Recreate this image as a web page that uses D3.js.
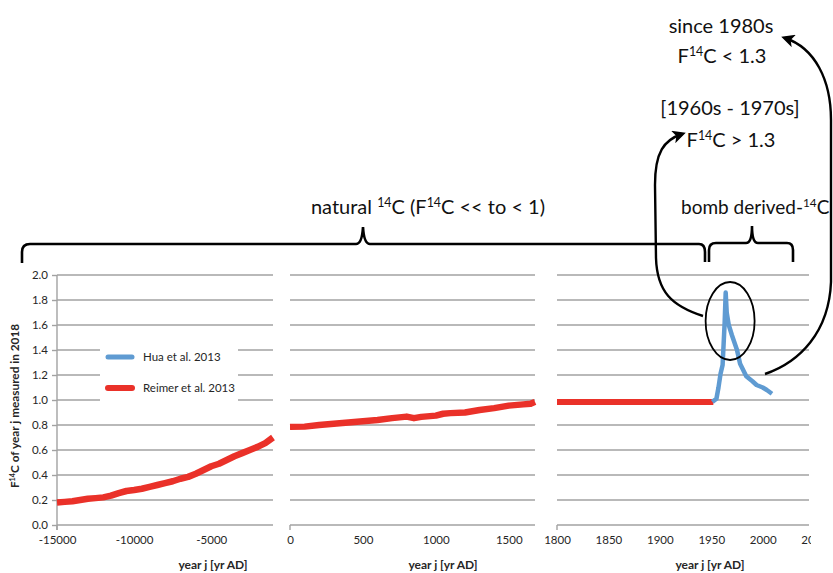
<!DOCTYPE html>
<html>
<head>
<meta charset="utf-8">
<script src="https://cdn.jsdelivr.net/npm/d3@7"></script>
<style>
  html, body { margin: 0; padding: 0; background: #fff; }
  svg { display: block; }
  text { font-family: Lato, "Open Sans", "DejaVu Sans", sans-serif; }
</style>
</head>
<body>
<svg id="chart" width="833" height="573"></svg>
<script>
// ---- data ----------------------------------------------------------
// Reimer et al. 2013 (IntCal13), prehistoric part
const reimerEarlyYears = [-15000,-14500,-14000,-13500,-13000,-12500,-12000,-11500,-11000,-10500,-10000,-9500,-9000,-8500,-8000,-7500,-7000,-6500,-6000,-5500,-5000,-4500,-4000,-3500,-3000,-2500,-2000,-1500,-1000];
const reimerEarlyF14C  = [0.18,0.185,0.19,0.20,0.21,0.215,0.221,0.235,0.255,0.272,0.28,0.29,0.305,0.32,0.335,0.35,0.37,0.385,0.41,0.44,0.47,0.49,0.52,0.55,0.575,0.60,0.625,0.655,0.70];
// Reimer et al. 2013, common era
const reimerCEYears = [0,100,200,300,400,500,600,700,800,850,900,1000,1050,1100,1200,1300,1400,1500,1600,1650,1680];
const reimerCEF14C  = [0.785,0.787,0.80,0.81,0.82,0.83,0.84,0.855,0.867,0.855,0.865,0.875,0.89,0.895,0.90,0.92,0.935,0.955,0.965,0.97,0.985];
// Reimer et al. 2013, industrial period
const reimerModernYears = [1800,1850,1900,1952];
const reimerModernF14C  = [0.985,0.985,0.985,0.985];
// Hua et al. 2013, bomb pulse
const huaYears = [1951,1955,1957,1959,1961,1962,1963,1964,1965,1967,1970,1975,1978,1984,1990,1994,2000,2004,2009];
const huaF14C  = [0.985,1.01,1.10,1.21,1.28,1.45,1.62,1.86,1.70,1.60,1.52,1.40,1.29,1.19,1.15,1.12,1.10,1.08,1.05];

// axis ticks
const yTicks = [0,0.2,0.4,0.6,0.8,1.0,1.2,1.4,1.6,1.8,2.0];
const ticksEarly = [-15000,-10000,-5000];
const ticksCE = [0,500,1000,1500];
const ticksModern = [1800,1850,1900,1950,2000,2050];

const seriesNames = ["Hua et al. 2013", "Reimer et al. 2013"];
const seriesColors = ["#5f9bd2", "#ea3129"];

// ---- layout --------------------------------------------------------
const svg = d3.select("#chart");
const plotTop = 275, plotBottom = 525;
const y = d3.scaleLinear().domain([0, 2]).range([plotBottom, plotTop]);

const panels = [
  { x: d3.scaleLinear().domain([-15000, -1000]).range([57, 273]), ticks: ticksEarly, clipRight: 285 },
  { x: d3.scaleLinear().domain([0, 1680]).range([290, 535]), ticks: ticksCE, clipRight: 545 },
  { x: d3.scaleLinear().domain([1800, 2045]).range([557, 809]), ticks: ticksModern, clipRight: 811 }
];

const gridColor = "#a2a2a2";
const textColor = "#262626";

// clip for tick labels of each panel (in unshifted user space)
const defs = svg.append("defs");
panels.forEach((p, i) => {
  defs.append("clipPath").attr("id", "lab" + i)
    .append("rect").attr("x", p.x.range()[0] - 40).attr("y", plotBottom)
    .attr("width", p.clipRight - p.x.range()[0] + 40).attr("height", 48);
});

// arrowhead marker
defs.append("marker").attr("id", "arrow")
  .attr("viewBox", "0 0 10 10").attr("refX", 7).attr("refY", 5)
  .attr("markerWidth", 5.5).attr("markerHeight", 5.5).attr("markerUnits", "strokeWidth")
  .attr("orient", "auto")
  .append("path").attr("d", "M0,0 L10,5 L0,10 L2.5,5 Z").attr("fill", "#000");

panels.forEach((p, i) => {
  const g = svg.append("g");
  const [x0, x1] = p.x.range();
  // horizontal gridlines (incl. baseline)
  g.selectAll("line.grid").data(yTicks).join("line")
    .attr("x1", x0).attr("x2", x1)
    .attr("y1", d => y(d)).attr("y2", d => y(d))
    .attr("stroke", gridColor).attr("stroke-width", 1.6);
  // start tick under baseline
  g.append("line").attr("x1", x0).attr("x2", x0).attr("y1", plotBottom).attr("y2", plotBottom + 5)
    .attr("stroke", gridColor).attr("stroke-width", 1.4);
  // x tick labels
  const xa = d3.axisBottom(p.x).tickValues(p.ticks).tickSize(0).tickPadding(11)
    .tickFormat(d => d3.format("d")(d).replace("\u2212", "-"));
  const ax = g.append("g").attr("clip-path", `url(#lab${i})`)
    .append("g").attr("transform", `translate(0,${plotBottom})`).call(xa);
  ax.select(".domain").remove();
  ax.selectAll("text").attr("font-size", 11.5).attr("fill", textColor)
    .style("font-family", "Lato, sans-serif");
  // x axis title
  g.append("text").attr("x", i === 0 ? 213 : (i === 1 ? 443 : 710)).attr("y", 569)
    .attr("text-anchor", "middle").attr("font-size", 12).attr("font-weight", "bold")
    .attr("fill", textColor).text("year j [yr AD]");
});

// y axis on first panel
const ya = d3.axisLeft(y).tickValues(yTicks).tickSize(5).tickPadding(4).tickFormat(d3.format(".1f"));
const yg = svg.append("g").attr("transform", `translate(57,0)`).call(ya);
yg.select(".domain").attr("stroke", gridColor).attr("stroke-width", 1.4).attr("d", `M0,${plotTop}V${plotBottom + 5}`);
yg.selectAll(".tick line").attr("stroke", gridColor).attr("stroke-width", 1.4);
yg.selectAll("text").attr("font-size", 11.5).attr("fill", textColor).style("font-family", "Lato, sans-serif");

// rich text helper: parts as [text, isSuperscript]
function rich(sel, parts, size) {
  let prevSup = false;
  parts.forEach(([t, sup]) => {
    const ts = sel.append("tspan").text(t);
    if (sup) { ts.attr("font-size", size * 0.62).attr("dy", -size * 0.36); }
    else if (prevSup) { ts.attr("dy", size * 0.36); }
    prevSup = sup;
  });
  return sel;
}

// y axis title
const yt = svg.append("text").attr("transform", "translate(19,406) rotate(-90)")
  .attr("text-anchor", "middle").attr("font-size", 11.8).attr("font-weight", "bold").attr("fill", textColor);
rich(yt, [["F", false], ["14", true], ["C of year j measured in 2018", false]], 11.8);

// legend (white box over gridlines)
svg.append("rect").attr("x", 100).attr("y", 340).attr("width", 138).attr("height", 64).attr("fill", "#fff");
const legend = svg.append("g");
seriesNames.forEach((n, i) => {
  const ly = 357 + i * 31;
  legend.append("line").attr("x1", 108).attr("x2", 132).attr("y1", ly).attr("y2", ly)
    .attr("stroke", seriesColors[i]).attr("stroke-width", i === 0 ? 5 : 6).attr("stroke-linecap", "round");
  legend.append("text").attr("x", 143).attr("y", ly + 4).attr("font-size", 11.5)
    .attr("fill", textColor).text(n);
});

// series lines
function drawSeries(p, years, vals, color, width) {
  const line = d3.line().x(d => p.x(d[0])).y(d => y(d[1]));
  svg.append("path").datum(d3.zip(years, vals)).attr("d", line)
    .attr("fill", "none").attr("stroke", color).attr("stroke-width", width)
    .attr("stroke-linejoin", "round");
}
drawSeries(panels[0], reimerEarlyYears, reimerEarlyF14C, seriesColors[1], 6.5);
drawSeries(panels[1], reimerCEYears, reimerCEF14C, seriesColors[1], 6.5);
drawSeries(panels[2], reimerModernYears, reimerModernF14C, seriesColors[1], 6);
drawSeries(panels[2], huaYears, huaF14C, seriesColors[0], 4.5);

// ---- annotations -----------------------------------------------------
const ann = svg.append("g").attr("fill", "none").attr("stroke", "#000");

// braces
ann.append("path").attr("stroke-width", 2.6)
  .attr("d", "M22,263 L22,252 Q22,244 30,244 L356,244 Q362,244 363,227 Q364,244 370,244 L699,244 Q705,244 705,252 L705,262");
ann.append("path").attr("stroke-width", 2.6)
  .attr("d", "M709,262 L709,250 Q709,243 716,243 L746,243 Q752,243 752,226 Q752,243 758,243 L787,243 Q793,243 793,250 L793,262");

// ellipse around the bomb peak
ann.append("ellipse").attr("cx", panels[2].x(1968.3)).attr("cy", y(1.632))
  .attr("rx", 24.5).attr("ry", 39).attr("stroke-width", 1.8);

// curved arrows
ann.append("path").attr("stroke-width", 2.4).attr("marker-end", "url(#arrow)")
  .attr("d", "M703,316 C672,306 657,292 656,258 L655,185 C655,152 664,140 682,134");
ann.append("path").attr("stroke-width", 2.4).attr("marker-end", "url(#arrow)")
  .attr("d", "M765,374 C800,362 829,332 831,282 L831,120 C831,80 815,48 785,38");

// annotation texts
function annText(x, yy, parts, size, anchor) {
  const t = svg.append("text").attr("x", x).attr("y", yy).attr("text-anchor", anchor || "middle")
    .attr("font-size", size).attr("fill", "#111");
  rich(t, parts, size);
}
annText(721, 33, [["since 1980s", false]], 20);
annText(722, 63, [["F", false], ["14", true], ["C < 1.3", false]], 20);
annText(730, 115, [["[1960s - 1970s]", false]], 20);
annText(731, 147, [["F", false], ["14", true], ["C > 1.3", false]], 20);
annText(428, 214, [["natural ", false], ["14", true], ["C (F", false], ["14", true], ["C << to < 1)", false]], 20);
annText(681, 214, [["bomb derived-", false], ["14", true], ["C", false]], 19, "start");
</script>
</body>
</html>
